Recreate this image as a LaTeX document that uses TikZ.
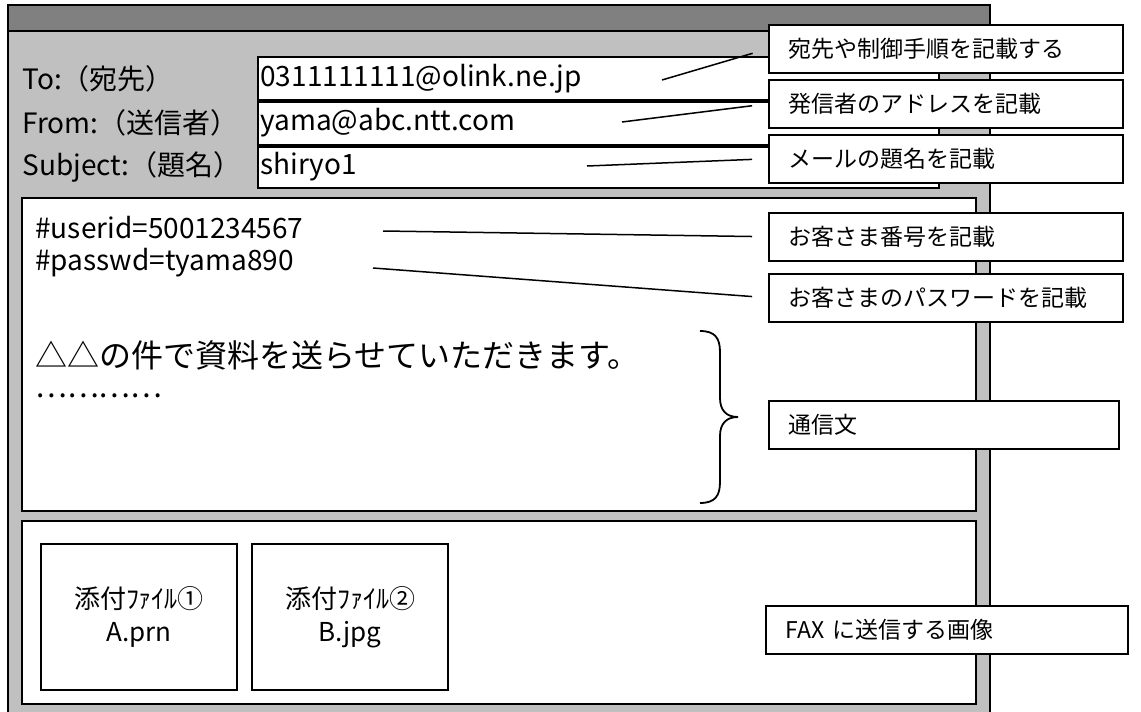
\documentclass[tikz,border=0pt]{standalone}
\usepackage{fontspec}
\setmainfont{Noto Sans CJK JP}
\usetikzlibrary{positioning}
\definecolor{winbar}{HTML}{808080}
\definecolor{winbody}{HTML}{C0C0C0}

\begin{document}
\begin{tikzpicture}[x=0.5pt,y=-0.5pt,
  note/.style={draw,fill=white,line width=0.75pt,anchor=north west,minimum height=24pt,
    text width=157pt,inner xsep=10pt,align=left,font=\fontsize{11.5}{14}\selectfont},
  link/.style={line width=0.75pt,shorten >=8pt},
  panel/.style={draw,fill=white,line width=1pt},
  field/.style={anchor=west,inner sep=0pt,font=\fontsize{14}{16}\selectfont},
  filebox/.style={draw,fill=white,line width=1pt,minimum width=98pt,minimum height=73pt,
    align=center,font=\fontsize{13}{16.5}\selectfont}]

\useasboundingbox (0,0) rectangle (1141,712);

% Draw the window
  \filldraw[fill=winbody,line width=1pt] (8,5) rectangle (990,720);
  \filldraw[fill=winbar,line width=1pt] (8,5) rectangle (990,31);

% header fields
  \filldraw[fill=white,line width=0.75pt] (258,57) rectangle (939,188);
  \draw[line width=1.75pt] (258,101) -- (939,101);
  \draw[line width=1.75pt] (258,146) -- (939,146);
  \node[field] (toLabel) at (22,79) {To:（宛先）};
  \node[field] (fromLabel) at (22,123) {From:（送信者）};
  \node[field] (subjLabel) at (22,167) {Subject:（題名）};
  \node[field] (toText) at (260,79) {0311111111@olink.ne.jp};
  \node[field] (fromText) at (260,123) {yama@abc.ntt.com};
  \node[field] (subjText) at (260,167) {shiryo1};

% message body
  \draw[panel] (22,198) rectangle (976,511);
  \node[field] (userid) at (35,228) {\#userid=5001234567};
  \node[field] (passwd) at (35,263) {\#passwd=tyama890};
  \node[field,align=left,font=\fontsize{16}{15}\selectfont] (message) at (35,369)
    {△△の件で資料を送らせていただきます。\\{\fontsize{15}{15}\selectfont …………}};
%brace
  \draw[line width=0.9pt] (700,331) .. controls (715,331) and (720,338) .. (720,352) -- (720,398)
    .. controls (720,410) and (726,417) .. (738,417)
    .. controls (726,417) and (720,424) .. (720,436) -- (720,482)
    .. controls (720,496) and (715,503) .. (700,503);

% attachments
  \draw[panel] (22,521) rectangle (976,704);
  \node[filebox,anchor=north west] (file1) at (40,543) {添付ﾌｧｲﾙ①\\A.prn};
  \node[filebox,right=6.5pt of file1] (file2) {添付ﾌｧｲﾙ②\\B.jpg};

% connectors
  \coordinate (toStart) at (662,80);
  \coordinate (fromStart) at (622,122);
  \coordinate (subjStart) at (587,166);
  \coordinate (idStart) at (383,231);
  \coordinate (pwStart) at (373,268);

% notes
  \node[note] (toNote) at (768,24) {宛先や制御手順を記載する};
  \node[note] (fromNote) at (768,79) {発信者のアドレスを記載};
  \node[note] (subjNote) at (768,134) {メールの題名を記載};
  \node[note] (idNote) at (768,212) {お客さま番号を記載};
  \node[note] (pwNote) at (768,273) {お客さまのパスワードを記載};
  \node[note,text width=155pt] (msgNote) at (768,400) {通信文};
  \node[note,text width=161pt] (faxNote) at (765,605) {FAX に送信する画像};

  \draw[link] (toStart) -- (toNote.west);
  \draw[link] (fromStart) -- (fromNote.west);
  \draw[link] (subjStart) -- (subjNote.west);
  \draw[link] (idStart) -- (idNote.west);
  \draw[link] (pwStart) -- (pwNote.west);
\end{tikzpicture}
\end{document}
